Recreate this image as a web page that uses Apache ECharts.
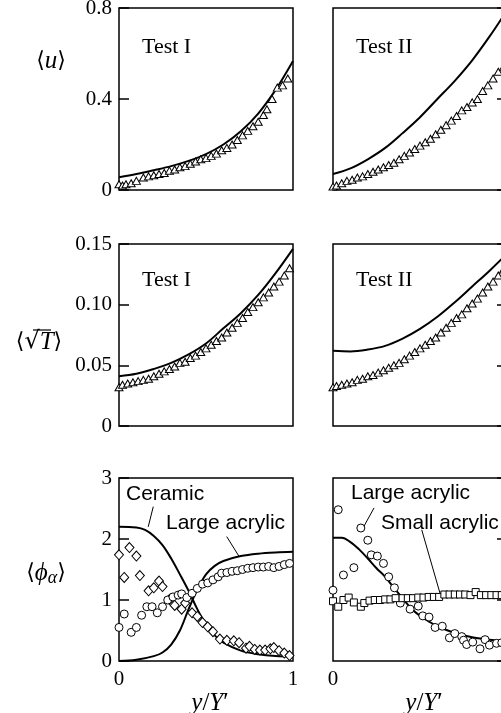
<!DOCTYPE html>
<html><head><meta charset="utf-8">
<script src="https://cdn.jsdelivr.net/npm/echarts@6/dist/echarts.min.js"></script>
<style>html,body{margin:0;padding:0;background:#fff}#c{width:501px;height:713px}</style>
</head><body><div id="c"></div>
<script>
// ---------- data (x = y/Y') ----------
const uModelI = [[0,0.056],[0.1,0.07],[0.2,0.087],[0.3,0.105],[0.4,0.128],[0.5,0.158],[0.6,0.2],[0.7,0.258],[0.8,0.336],[0.9,0.44],[1,0.567]];
const uDataI = [[0,0.025],[0.02,0.02],[0.04,0.025],[0.07,0.03],[0.1,0.04],[0.14,0.055],[0.17,0.06],[0.2,0.065],[0.23,0.07],[0.26,0.075],[0.29,0.085],[0.32,0.09],[0.35,0.1],[0.38,0.105],[0.41,0.115],[0.44,0.125],[0.47,0.135],[0.5,0.14],[0.53,0.15],[0.56,0.16],[0.59,0.175],[0.62,0.185],[0.65,0.2],[0.68,0.22],[0.71,0.24],[0.74,0.26],[0.77,0.28],[0.8,0.3],[0.83,0.33],[0.85,0.355],[0.88,0.4],[0.91,0.45],[0.94,0.46],[0.97,0.49]];
const uModelII = [[0,0.07],[0.1,0.095],[0.2,0.135],[0.3,0.185],[0.4,0.25],[0.5,0.32],[0.6,0.4],[0.7,0.48],[0.8,0.57],[0.9,0.675],[1,0.79]];
const uDataII = [[0,0.015],[0.02,0.02],[0.05,0.03],[0.08,0.04],[0.11,0.045],[0.14,0.055],[0.17,0.06],[0.2,0.07],[0.23,0.08],[0.26,0.09],[0.29,0.1],[0.32,0.11],[0.35,0.12],[0.38,0.135],[0.41,0.15],[0.44,0.165],[0.47,0.18],[0.5,0.195],[0.53,0.21],[0.56,0.225],[0.59,0.245],[0.62,0.265],[0.65,0.285],[0.68,0.305],[0.71,0.325],[0.74,0.35],[0.77,0.365],[0.8,0.385],[0.83,0.4],[0.86,0.435],[0.89,0.46],[0.92,0.49],[0.95,0.52],[0.98,0.54]];
const tModelI = [[0,0.041],[0.1,0.043],[0.2,0.047],[0.3,0.052],[0.4,0.059],[0.5,0.068],[0.6,0.0805],[0.7,0.093],[0.8,0.108],[0.9,0.126],[1,0.146]];
const tDataI = [[0,0.032],[0.02,0.034],[0.05,0.035],[0.08,0.036],[0.11,0.037],[0.14,0.038],[0.17,0.039],[0.2,0.041],[0.23,0.043],[0.26,0.045],[0.29,0.047],[0.32,0.049],[0.35,0.052],[0.38,0.053],[0.41,0.056],[0.44,0.058],[0.47,0.061],[0.5,0.064],[0.53,0.067],[0.56,0.07],[0.59,0.073],[0.62,0.077],[0.65,0.081],[0.68,0.085],[0.71,0.089],[0.74,0.094],[0.77,0.098],[0.8,0.102],[0.83,0.106],[0.86,0.11],[0.89,0.115],[0.92,0.119],[0.95,0.124],[0.98,0.13]];
const tModelII = [[0,0.062],[0.1,0.0615],[0.2,0.063],[0.3,0.066],[0.4,0.072],[0.5,0.08],[0.6,0.09],[0.7,0.102],[0.8,0.115],[0.9,0.128],[1,0.142]];
const tDataII = [[0,0.032],[0.02,0.033],[0.05,0.034],[0.08,0.035],[0.11,0.036],[0.14,0.038],[0.17,0.039],[0.2,0.041],[0.23,0.042],[0.26,0.044],[0.29,0.046],[0.32,0.048],[0.35,0.05],[0.38,0.052],[0.41,0.055],[0.44,0.058],[0.47,0.061],[0.5,0.064],[0.53,0.067],[0.56,0.07],[0.59,0.073],[0.62,0.077],[0.65,0.081],[0.68,0.085],[0.71,0.089],[0.74,0.092],[0.77,0.097],[0.8,0.101],[0.83,0.105],[0.86,0.11],[0.89,0.115],[0.92,0.119],[0.95,0.124],[0.98,0.129]];
const ceramicModel = [[0,2.2],[0.1,2.19],[0.15,2.15],[0.2,2.05],[0.25,1.9],[0.3,1.68],[0.35,1.42],[0.4,1.15],[0.45,0.85],[0.5,0.6],[0.55,0.42],[0.6,0.3],[0.7,0.17],[0.8,0.11],[0.9,0.08],[1,0.07]];
const largeModelI = [[0,0],[0.1,0.02],[0.2,0.08],[0.25,0.14],[0.3,0.27],[0.35,0.5],[0.4,0.85],[0.45,1.17],[0.5,1.42],[0.55,1.56],[0.6,1.64],[0.7,1.72],[0.8,1.76],[0.9,1.78],[1,1.79]];
const ceramicData = [[0,1.74],[0.03,1.37],[0.06,1.86],[0.1,1.72],[0.12,1.4],[0.17,1.15],[0.2,1.2],[0.23,1.31],[0.25,1.22],[0.29,1.01],[0.32,0.91],[0.36,0.85],[0.38,0.95],[0.42,0.79],[0.45,0.73],[0.48,0.63],[0.51,0.56],[0.54,0.48],[0.58,0.36],[0.62,0.34],[0.66,0.33],[0.69,0.3],[0.73,0.21],[0.75,0.24],[0.78,0.19],[0.81,0.18],[0.84,0.18],[0.87,0.2],[0.89,0.22],[0.92,0.17],[0.95,0.13],[0.98,0.09]];
const largeDataI = [[0,0.55],[0.03,0.77],[0.07,0.47],[0.1,0.55],[0.13,0.75],[0.16,0.89],[0.19,0.89],[0.22,0.79],[0.25,0.89],[0.28,1],[0.31,1.05],[0.34,1.08],[0.36,1.1],[0.39,1.04],[0.42,1.11],[0.45,1.19],[0.48,1.26],[0.51,1.28],[0.54,1.33],[0.57,1.38],[0.59,1.44],[0.62,1.45],[0.65,1.47],[0.68,1.48],[0.71,1.5],[0.74,1.52],[0.77,1.53],[0.8,1.54],[0.83,1.54],[0.86,1.55],[0.89,1.53],[0.92,1.55],[0.95,1.58],[0.98,1.6]];
const largeModelII = [[0,2.02],[0.05,2.02],[0.1,1.95],[0.15,1.83],[0.2,1.68],[0.25,1.52],[0.3,1.38],[0.35,1.2],[0.4,1.03],[0.45,0.86],[0.5,0.74],[0.55,0.65],[0.6,0.57],[0.7,0.46],[0.8,0.39],[0.9,0.35],[1,0.32]];
const largeDataII = [[0,1.16],[0.03,2.48],[0.06,1.41],[0.12,1.53],[0.16,2.18],[0.2,1.98],[0.22,1.74],[0.255,1.72],[0.29,1.6],[0.32,1.38],[0.353,1.2],[0.387,0.95],[0.443,0.85],[0.49,0.9],[0.516,0.74],[0.552,0.72],[0.587,0.55],[0.628,0.57],[0.669,0.38],[0.7,0.45],[0.74,0.4],[0.75,0.34],[0.768,0.27],[0.803,0.31],[0.845,0.2],[0.874,0.35],[0.899,0.26],[0.94,0.29],[0.97,0.3]];
const smallDataII = [[0,0.98],[0.03,0.89],[0.06,1],[0.09,1.04],[0.12,0.96],[0.16,0.89],[0.18,0.95],[0.21,0.99],[0.24,1],[0.27,1],[0.3,1.01],[0.33,1.01],[0.36,1.03],[0.4,1.03],[0.43,1.03],[0.46,1.03],[0.49,1.04],[0.52,1.04],[0.55,1.05],[0.58,1.05],[0.61,1.05],[0.64,1.09],[0.67,1.09],[0.7,1.09],[0.73,1.09],[0.76,1.09],[0.79,1.08],[0.82,1.13],[0.85,1.08],[0.88,1.08],[0.91,1.08],[0.94,1.08],[0.97,1.08]];
const uTicks = ['0','0.4','0.8'];
const tTicks = ['0','0.05','0.10','0.15'];
const phiTicks = ['0','1','2','3'];
const xTicks = ['0','1'];

// ---------- chart ----------
const SERIF = "'Liberation Serif','DejaVu Serif',serif";
const SANS = "'Liberation Sans',Arial,sans-serif";
const chart = echarts.init(document.getElementById('c'), null, {renderer:'canvas'});
const gridPos = [
  {left:119, top:8, width:174, height:182},
  {left:333, top:8, width:174, height:182},
  {left:119, top:244, width:174, height:182},
  {left:333, top:244, width:174, height:182},
  {left:119, top:478, width:174, height:183},
  {left:333, top:478, width:174, height:183}
];
const grid = gridPos.map(g => Object.assign({show:true, borderColor:'#000', borderWidth:1.5, backgroundColor:'transparent', containLabel:false, outerBoundsMode:'none'}, g));
const yRanges = [[0.8,0.4,uTicks],[0.8,0.4,uTicks],[0.15,0.05,tTicks],[0.15,0.05,tTicks],[3,1,phiTicks],[3,1,phiTicks]];
const xAxis = grid.map((g,i) => ({
  gridIndex:i, type:'value', min:0, max:1, interval:1, position:'bottom',
  axisLine:{show:false, onZero:false}, axisTick:{show:false}, splitLine:{show:false},
  axisLabel:{show:i>=4, color:'#000', fontFamily:SERIF, fontSize:21, margin:8,
    formatter:(v)=>xTicks[Math.round(v)]},
  name: i>=4 ? '{i|y}{n|/}{i|Y}{n|′}' : '',
  nameLocation:'middle', nameGap:19,
  nameTextStyle:{padding:[0,0,0,8], rich:{i:{fontFamily:SERIF,fontStyle:'italic',fontSize:25,color:'#000'}, n:{fontFamily:SERIF,fontSize:25,color:'#000'}}}
}));
const yAxis = grid.map((g,i) => ({
  gridIndex:i, type:'value', min:0, max:yRanges[i][0], interval:yRanges[i][1],
  position: i%2===0 ? 'left' : 'right',
  axisLine:{show:false, onZero:false}, splitLine:{show:false},
  axisTick:{show:true, inside:true, length:10, lineStyle:{color:'#000', width:1.5}},
  axisLabel:{show:i%2===0, color:'#000', fontFamily:SERIF, fontSize:21, margin:7,
    formatter:(v)=>yRanges[i][2][Math.round(v/yRanges[i][1])]}
}));
const lineS = (data, idx, extra) => Object.assign({type:'line', data, xAxisIndex:idx, yAxisIndex:idx, smooth:0.35, showSymbol:false, symbol:'none', lineStyle:{color:'#000', width:2}, z:3, silent:true}, extra||{});
const scat = (data, idx, symbol, size) => ({type:'scatter', data, xAxisIndex:idx, yAxisIndex:idx, symbol, symbolSize:size, itemStyle:{color:'#fff', borderColor:'#000', borderWidth:1, opacity:1}, z:4, silent:true});
const leader = (pairs) => ({silent:true, symbol:['none','none'], label:{show:false}, lineStyle:{color:'#000', width:1, type:'solid'}, emphasis:{disabled:true},
  data: pairs.map(p => [{coord:p[0]},{coord:p[1]}])});
const series = [
  lineS(uModelI,0), scat(uDataI,0,'triangle',[8,7]),
  lineS(uModelII,1), scat(uDataII,1,'triangle',[8,7]),
  lineS(tModelI,2), scat(tDataI,2,'triangle',[8,7]),
  lineS(tModelII,3), scat(tDataII,3,'triangle',[8,7]),
  scat(ceramicData,4,'diamond',[9,10]), scat(largeDataI,4,'circle',8),
  lineS(ceramicModel,4,{markLine:leader([[[0.197,2.53],[0.168,2.2]]])}),
  lineS(largeModelI,4,{markLine:leader([[[0.619,2.04],[0.691,1.71]]])}),
  scat(largeDataII,5,'circle',8), scat(smallDataII,5,'rect',7),
  lineS(largeModelII,5,{markLine:leader([[[0.236,2.51],[0.178,2.21]],[[0.51,2.15],[0.615,1.11]]])})
];
const txt = (x,y,text,font) => ({type:'text', x, y, silent:true, style:{text, font, fill:'#000', verticalAlign:'middle', textVerticalAlign:'middle'}});
const richTitle = (x,y,text,rich) => ({type:'text', x, y, silent:true, style:{text, rich, fill:'#000', align:'center', textAlign:'center', verticalAlign:'middle', textVerticalAlign:'middle'}});
const br = {fontFamily:"'DejaVu Serif',serif", fontSize:22, fill:'#000', color:'#000'};
const it = {fontFamily:SERIF, fontStyle:'italic', fontSize:25, fill:'#000', color:'#000'};
const graphic = [
  txt(142,47,'Test I','22px '+SERIF), txt(356,47,'Test II','22px '+SERIF),
  txt(142,280,'Test I','22px '+SERIF), txt(356,280,'Test II','22px '+SERIF),
  txt(126,494,'Ceramic','21px '+SANS), txt(166,523,'Large acrylic','21px '+SANS),
  txt(351,493,'Large acrylic','21px '+SANS), txt(381,523,'Small acrylic','21px '+SANS),
  richTitle(51,61,'{a|⟨}{i|u}{a|⟩}',{a:br,i:it}),
  richTitle(39,342,'{a|⟨}{r|√}{i|T}{a|⟩}',{a:br,r:{fontFamily:"'DejaVu Serif',serif",fontSize:24,fill:'#000',color:'#000'},i:it}),
  richTitle(46,573,'{a|⟨}{i|ϕ}{s|α}{a|⟩}',{a:br,i:it,s:{fontFamily:SERIF,fontStyle:'italic',fontSize:18,fill:'#000',color:'#000',padding:[10,0,0,0]}}),
  {type:'line', silent:true, shape:{x1:33, y1:330, x2:51, y2:330}, style:{stroke:'#000', lineWidth:1.2}}
];
chart.setOption({animation:false, backgroundColor:'#fff', grid, xAxis, yAxis, series, graphic});
</script>
</body></html>
